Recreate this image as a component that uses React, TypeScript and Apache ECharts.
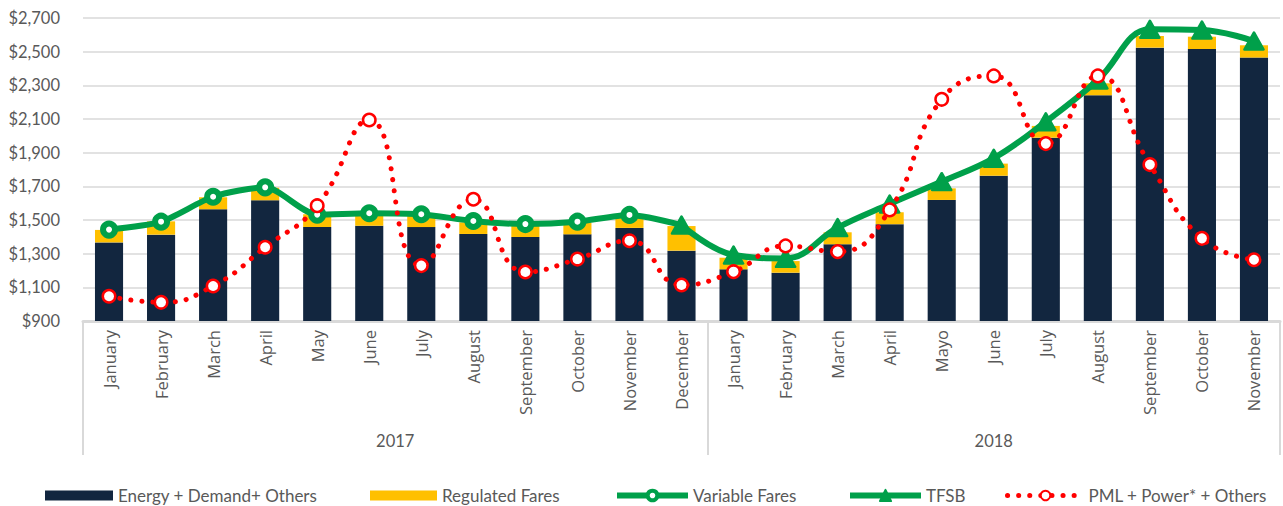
import React, { useEffect, useRef } from 'react';
import * as echarts from 'echarts';

const months = [
  'January', 'February', 'March', 'April', 'May', 'June', 'July', 'August', 'September', 'October', 'November', 'December',
  'January', 'February', 'March', 'April', 'Mayo', 'June', 'July', 'August', 'September', 'October', 'November',
];
const years = ['2017', '2018'];
const monthsPerYear = [12, 11];

const energyDemandOthers = [1367, 1413, 1564, 1617, 1458, 1466, 1458, 1417, 1399, 1415, 1453, 1318, 1207, 1187, 1356, 1475, 1619, 1763, 1989, 2241, 2524, 2516, 2465];
const regulatedFares = [74, 79, 71, 75, 76, 74, 68, 69, 71, 69, 67, 146, 69, 69, 71, 71, 69, 72, 70, 71, 69, 73, 73];
const variableFares = [1443, 1490, 1638, 1694, 1532, 1540, 1534, 1494, 1476, 1490, 1530];
const tfsb = [1470, 1292, 1272, 1455, 1595, 1728, 1867, 2084, 2332, 2633, 2629, 2563];
const pmlPowerOthers = [1047, 1011, 1108, 1338, 1585, 2094, 1229, 1623, 1191, 1268, 1377, 1114, 1193, 1346, 1312, 1560, 2217, 2356, 1954, 2356, 1829, 1391, 1264];

const yMin = 900;
const yMax = 2700;
const yStep = 200;

const NAVY = '#12263F';
const YELLOW = '#FFC000';
const GREEN = '#00A04A';
const RED = '#FF0000';
const TEXT = '#595959';
const GRID = '#D9D9D9';
const FONT = 'Lato, "Open Sans", sans-serif';

export default function App() {
  const ref = useRef<HTMLDivElement>(null);

  useEffect(() => {
    if (!ref.current) return;
    const chart = echarts.init(ref.current, undefined, { renderer: 'svg' });

    // year axis: points at half-month resolution (boundaryGap false)
    const nPoints = months.length * 2 + 1;
    const yearAxisData: string[] = new Array(nPoints).fill('');
    const boundaries: number[] = [0];
    let start = 0;
    years.forEach((y, i) => {
      const count = monthsPerYear[i];
      yearAxisData[2 * start + count] = y;
      start += count;
      boundaries.push(2 * start);
    });

    const vfData: any[] = variableFares.map((v) => v);
    vfData.push({ value: tfsb[0], symbol: 'none' });
    const tfsbData: any[] = new Array(variableFares.length).fill(null).concat(tfsb);

    const legendBase = {
      top: 487,
      padding: 0,
      textStyle: { color: TEXT, fontSize: 17, fontFamily: FONT },
      selectedMode: false,
    };

    chart.setOption({
      animation: false,
      backgroundColor: '#fff',
      grid: { left: 83, right: 3, top: 18, height: 303 },
      legend: [
        { ...legendBase, left: 45, itemWidth: 68, itemHeight: 10, icon: 'rect', data: ['Energy + Demand+ Others'] },
        { ...legendBase, left: 370, itemWidth: 67, itemHeight: 10, icon: 'rect', data: ['Regulated Fares'] },
        {
          ...legendBase, left: 614, itemWidth: 71, itemHeight: 12,
          lineStyle: { width: 6 },
          data: [{ name: 'Variable Fares', itemStyle: { borderWidth: 4 } }],
        },
        {
          ...legendBase, left: 847, itemWidth: 71, itemHeight: 14,
          lineStyle: { width: 6 },
          data: ['TFSB'],
        },
        {
          ...legendBase, left: 1005, itemWidth: 76, itemHeight: 12,
          lineStyle: { width: 5 },
          data: [{ name: 'PML + Power* + Others', itemStyle: { borderWidth: 2 } }],
        },
      ],
      xAxis: [
        {
          type: 'category',
          data: months,
          axisLine: { show: true, lineStyle: { color: GRID, width: 3 } },
          axisTick: { show: false },
          axisLabel: {
            rotate: 90,
            interval: 0,
            margin: 9,
            color: TEXT,
            fontSize: 16.5,
            fontFamily: '"Open Sans", sans-serif',
          },
        },
        {
          type: 'category',
          data: yearAxisData,
          boundaryGap: false,
          position: 'bottom',
          axisLine: { show: false },
          axisTick: {
            show: true,
            length: 134,
            interval: (i: number) => boundaries.indexOf(i) >= 0,
            lineStyle: { color: GRID, width: 2 },
          },
          axisLabel: {
            interval: 0,
            margin: 111,
            color: TEXT,
            fontSize: 16.5,
            fontFamily: FONT,
          },
        },
      ],
      yAxis: {
        type: 'value',
        min: yMin,
        max: yMax,
        interval: yStep,
        axisLine: { show: false },
        axisTick: { show: false },
        splitLine: { lineStyle: { color: GRID, width: 1.5 } },
        axisLabel: {
          margin: 23,
          color: TEXT,
          fontSize: 16.5,
          fontFamily: FONT,
          formatter: (v: number) => '$' + v.toLocaleString('en-US'),
        },
      },
      series: [
        {
          name: 'Energy + Demand+ Others',
          type: 'bar',
          stack: 'total',
          barWidth: '54%',
          itemStyle: { color: NAVY },
          data: energyDemandOthers,
        },
        {
          name: 'Regulated Fares',
          type: 'bar',
          stack: 'total',
          itemStyle: { color: YELLOW },
          data: regulatedFares,
        },
        {
          name: 'Variable Fares',
          type: 'line',
          smooth: 0.25,
          symbol: 'circle',
          symbolSize: 12,
          lineStyle: { color: GREEN, width: 6 },
          itemStyle: { color: '#fff', borderColor: GREEN, borderWidth: 6 },
          data: vfData,
        },
        {
          name: 'TFSB',
          type: 'line',
          smooth: 0.4,
          symbol: 'triangle',
          symbolSize: [19, 17],
          lineStyle: { color: GREEN, width: 6 },
          itemStyle: { color: GREEN, borderColor: GREEN, borderWidth: 2.5, borderJoin: 'round' },
          data: tfsbData,
        },
        {
          name: 'PML + Power* + Others',
          type: 'line',
          smooth: 0.5,
          symbol: 'circle',
          symbolSize: 12.5,
          lineStyle: { color: RED, width: 5, type: [0.1, 11], cap: 'round' },
          itemStyle: { color: '#fff', borderColor: RED, borderWidth: 2.5 },
          data: pmlPowerOthers,
        },
      ],
    });

    return () => chart.dispose();
  }, []);

  return (
    <div
      ref={ref}
      style={{ position: 'fixed', left: 0, top: 0, width: 1283, height: 506, background: '#fff' }}
    />
  );
}
